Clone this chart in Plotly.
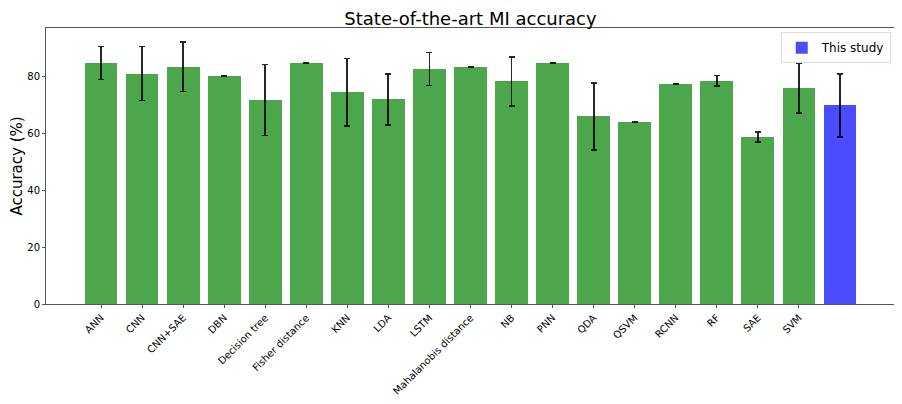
import plotly.graph_objects as go

categories = ["ANN", "CNN", "CNN+SAE", "DBN", "Decision tree", "Fisher distance", "KNN", "LDA",
              "LSTM", "Mahalanobis distance", "NB", "PNN", "QDA", "QSVM", "RCNN", "RF", "SAE", "SVM"]
accuracy = [84.7, 81.0, 83.4, 80.0, 71.7, 84.8, 74.5, 71.9, 82.6, 83.3, 78.2, 84.8, 65.9, 64.0, 77.2, 78.4, 58.7, 76.0]
errors = [5.8, 9.5, 8.7, 0, 12.5, 0, 11.8, 9.0, 5.8, 0, 8.5, 0, 11.9, 0, 0, 1.9, 1.7, 8.8]

study_label = "This study"
study_accuracy = [69.8]
study_error = [11.1]

x_idx = list(range(len(categories)))
study_x = [len(categories)]

# page body has an 8px default margin, so the figure is sized to fit the 902x404 window
W, H = 894, 396

fig = go.Figure()
fig.add_trace(go.Bar(
    x=x_idx, y=accuracy, width=0.8,
    marker=dict(color="rgba(0,128,0,0.7)", line=dict(width=0)),
    error_y=dict(type="data", array=errors, visible=True, color="rgba(0,0,0,0.85)", thickness=1.8, width=3),
    showlegend=False,
))
fig.add_trace(go.Bar(
    x=study_x, y=study_accuracy, width=0.8, name=study_label,
    marker=dict(color="rgba(0,0,255,0.7)", line=dict(width=0)),
    error_y=dict(type="data", array=study_error, visible=True, color="rgba(0,0,0,0.85)", thickness=1.8, width=3),
    showlegend=True,
))

fig.update_layout(
    width=W, height=H,
    margin=dict(l=38, r=7, t=20, b=100, autoexpand=False),
    paper_bgcolor="white", plot_bgcolor="white",
    font=dict(family="DejaVu Sans", color="black"),
    title=dict(text="State-of-the-art MI accuracy", xref="paper", x=0.5, xanchor="center",
               yref="container", y=1 - 17 / H, yanchor="bottom", font=dict(size=18, color="black")),
    bargap=0,
    legend=dict(x=0.995, y=0.985, xanchor="right", yanchor="top", bgcolor="rgba(255,255,255,0.8)",
                bordercolor="#dddddd", borderwidth=1, font=dict(size=12)),
    xaxis=dict(
        range=[-1.34, 19.34], tickmode="array", tickvals=x_idx, ticktext=categories,
        tickangle=-45, tickfont=dict(size=10), showgrid=False, zeroline=False, automargin=False,
        showline=True, linecolor="#555555", linewidth=1, mirror=True,
        ticks="outside", ticklen=3, tickcolor="#555555",
    ),
    yaxis=dict(
        range=[0, 97], tickvals=[0, 20, 40, 60, 80], tickfont=dict(size=10), automargin=False,
        title=dict(text="Accuracy (%)", font=dict(size=15), standoff=9),
        showgrid=False, zeroline=False,
        showline=True, linecolor="#555555", linewidth=1, mirror=True,
        ticks="outside", ticklen=3, tickcolor="#555555",
    ),
)

fig.write_html("out.html")
